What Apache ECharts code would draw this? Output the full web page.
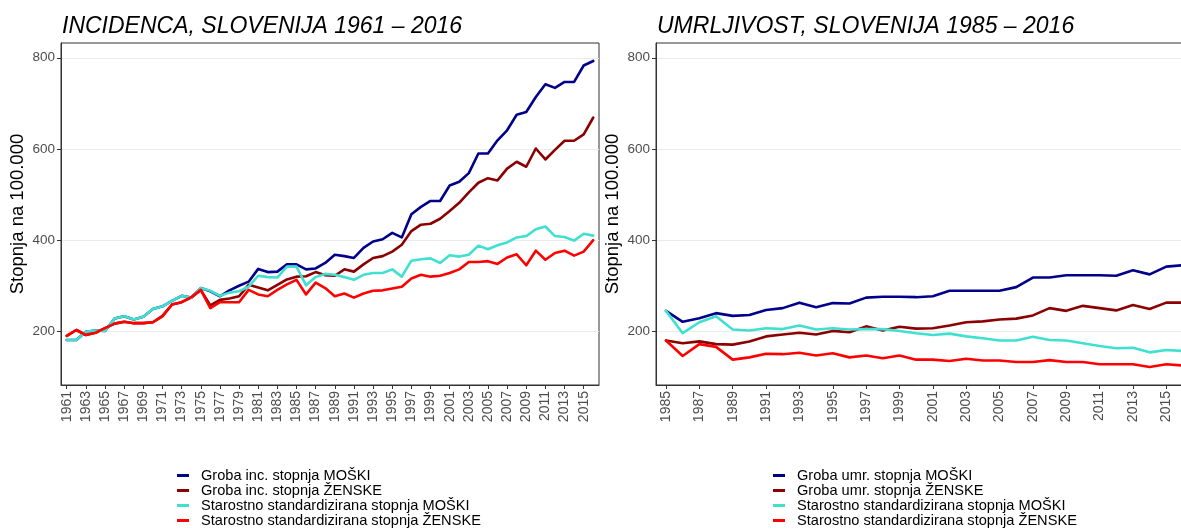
<!DOCTYPE html>
<html>
<head>
<meta charset="utf-8">
<title>Incidenca in umrljivost, Slovenija</title>
<script src="https://cdn.jsdelivr.net/npm/echarts@6/dist/echarts.min.js"></script>
<style>
  html, body { margin: 0; padding: 0; background: #ffffff; }
  #chart { width: 1181px; height: 529px; }
</style>
</head>
<body>
<div id="chart"></div>
<script>
// Incidence 1961-2016 (rates per 100.000)
const incYears = [];
for (let y = 1961; y <= 2016; y++) incYears.push(y);
const incGrobaMoski = [181,181,199,202,201,228,233,226,232,249, 255,267,278,274,295,288,277,290,300,309,
  337,330,331,347,347,336,338,350,368,365, 361,383,397,402,416,406,457,473,486,486,
  520,528,547,590,590,619,641,675,681,714, 742,734,747,747,783,793];
const incGrobaZenske = [190,203,192,197,207,217,221,218,218,220, 234,259,264,274,291,257,269,272,277,302,
  296,290,302,314,320,321,330,323,322,336, 331,347,361,365,375,390,420,434,436,447,
  464,482,505,526,536,531,557,572,561,601, 577,598,618,618,632,669];
const incStdMoski = [181,181,199,202,201,228,233,226,232,249, 255,267,278,274,295,289,278,285,288,298,
  322,319,318,342,342,301,319,326,324,319, 313,324,328,328,336,320,355,358,360,350,
  367,364,368,388,380,389,395,406,409,424, 430,409,407,399,414,410];
const incStdZenske = [190,203,192,197,207,217,221,218,218,220, 233,259,264,275,291,251,264,264,264,291,
  281,277,291,303,313,281,307,295,277,283, 274,283,289,290,294,298,316,324,320,322,
  328,336,352,352,354,348,362,369,345,377, 357,372,377,366,375,400];

// Mortality 1985-2016 (rates per 100.000)
const umrYears = [];
for (let y = 1985; y <= 2016; y++) umrYears.push(y);
const umrGrobaMoski = [245,221,229,240,234,236,247,251,263,253,262,261,274,276,276,275,
  277,289,289,289,289,297,318,318,323,323,323,322,334,325,342,345];
const umrGrobaZenske = [180,174,178,172,171,178,189,193,197,193,201,198,211,202,210,206,
  207,213,220,222,226,228,235,251,245,256,251,246,258,249,263,263];
const umrStdMoski = [245,196,220,233,204,202,207,205,213,204,207,204,205,205,201,196,
  192,195,189,185,180,180,188,181,180,174,168,163,164,154,159,157];
const umrStdZenske = [180,146,172,166,138,143,151,150,153,147,152,143,147,141,147,138,
  138,135,140,136,136,133,133,137,133,133,128,128,128,122,128,125];

// Tick labels
const incTickYears = incYears.filter(y => y % 2 === 1);
const umrTickYears = umrYears.filter(y => y % 2 === 1);
const yTickValues = [200, 400, 600, 800];

const incNames = ['Groba inc. stopnja MOŠKI', 'Groba inc. stopnja ŽENSKE',
  'Starostno standardizirana stopnja MOŠKI', 'Starostno standardizirana stopnja ŽENSKE'];
const umrNames = ['Groba umr. stopnja MOŠKI', 'Groba umr. stopnja ŽENSKE',
  'Starostno standardizirana stopnja MOŠKI', 'Starostno standardizirana stopnja ŽENSKE'];
const lineColors = ['#00008B', '#8B0000', '#40E0D0', '#FF0000'];

const FONT = '"Liberation Sans", Arial, Helvetica, sans-serif';

function pairs(years, vals) {
  return years.map((y, i) => [y, vals[i]]);
}

function xAxisFor(gridIndex, min, max, ticks) {
  return {
    type: 'value', gridIndex, min, max,
    axisLine: { show: true, onZero: false, lineStyle: { color: '#333333', width: 1 } },
    axisTick: { show: true, length: 4, customValues: ticks, lineStyle: { color: '#333333' } },
    axisLabel: {
      customValues: ticks, rotate: 90, margin: 6, color: '#4D4D4D',
      fontSize: 14, fontFamily: FONT, formatter: v => String(v)
    },
    splitLine: { show: false }
  };
}

function yAxisFor(gridIndex) {
  return {
    type: 'value', gridIndex, min: 82.4, max: 832.4,
    splitNumber: 8, minInterval: 100, maxInterval: 100,
    name: 'Stopnja na 100.000', nameLocation: 'middle', nameGap: 34, nameRotate: 90,
    nameTextStyle: { color: '#000000', fontSize: 18.5, fontFamily: FONT },
    axisLine: { show: true, onZero: false, lineStyle: { color: '#333333', width: 1 } },
    axisTick: { show: true, length: 4, customValues: yTickValues, lineStyle: { color: '#333333' } },
    axisLabel: { customValues: yTickValues, margin: 6, color: '#4D4D4D', fontSize: 13.5, fontFamily: FONT },
    splitLine: { show: true, lineStyle: { color: '#EBEBEB', width: 1 } }
  };
}

function lineSeries(name, years, vals, color, axisIdx) {
  return {
    name, type: 'line', xAxisIndex: axisIdx, yAxisIndex: axisIdx,
    data: pairs(years, vals), showSymbol: false, symbol: 'none',
    lineStyle: { color, width: 2.6, join: 'round', cap: 'round' },
    itemStyle: { color }, emphasis: { disabled: true }
  };
}

function legendFor(names, left) {
  return {
    data: names, orient: 'vertical', left, top: 468, height: 61, padding: 0,
    icon: 'rect', itemWidth: 12, itemHeight: 3, itemGap: 0,
    selectedMode: false,
    textStyle: { color: '#000000', fontSize: 14.6, fontFamily: FONT, lineHeight: 15, padding: [0, 0, 0, 7] }
  };
}

function titleFor(text, left) {
  return {
    text, left, top: 15, padding: 0,
    textStyle: { fontSize: 23, fontStyle: 'italic', fontWeight: 'normal', color: '#000000', fontFamily: FONT }
  };
}

const chart = echarts.init(document.getElementById('chart'), null, { renderer: 'canvas' });
chart.setOption({
  animation: false,
  backgroundColor: '#ffffff',
  title: [
    titleFor('INCIDENCA, SLOVENIJA 1961 – 2016', 62),
    titleFor('UMRLJIVOST, SLOVENIJA 1985 – 2016', 657)
  ],
  grid: [
    { left: 61, top: 43, width: 538, height: 342, show: true, borderColor: '#333333', borderWidth: 1,
      containLabel: false, outerBoundsMode: 'none' },
    { left: 656, top: 43, width: 537, height: 342, show: true, borderColor: '#333333', borderWidth: 1,
      containLabel: false, outerBoundsMode: 'none' }
  ],
  xAxis: [
    xAxisFor(0, 1960.4, 2016.6, incTickYears),
    xAxisFor(1, 1984.4, 2016.6, umrTickYears)
  ],
  yAxis: [yAxisFor(0), yAxisFor(1)],
  legend: [legendFor(incNames, 177), legendFor(umrNames, 773)],
  series: [
    lineSeries(incNames[0], incYears, incGrobaMoski, lineColors[0], 0),
    lineSeries(incNames[1], incYears, incGrobaZenske, lineColors[1], 0),
    lineSeries(incNames[2], incYears, incStdMoski, lineColors[2], 0),
    lineSeries(incNames[3], incYears, incStdZenske, lineColors[3], 0),
    lineSeries(umrNames[0], umrYears, umrGrobaMoski, lineColors[0], 1),
    lineSeries(umrNames[1], umrYears, umrGrobaZenske, lineColors[1], 1),
    lineSeries(umrNames[2], umrYears, umrStdMoski, lineColors[2], 1),
    lineSeries(umrNames[3], umrYears, umrStdZenske, lineColors[3], 1)
  ]
});
</script>
</body>
</html>
